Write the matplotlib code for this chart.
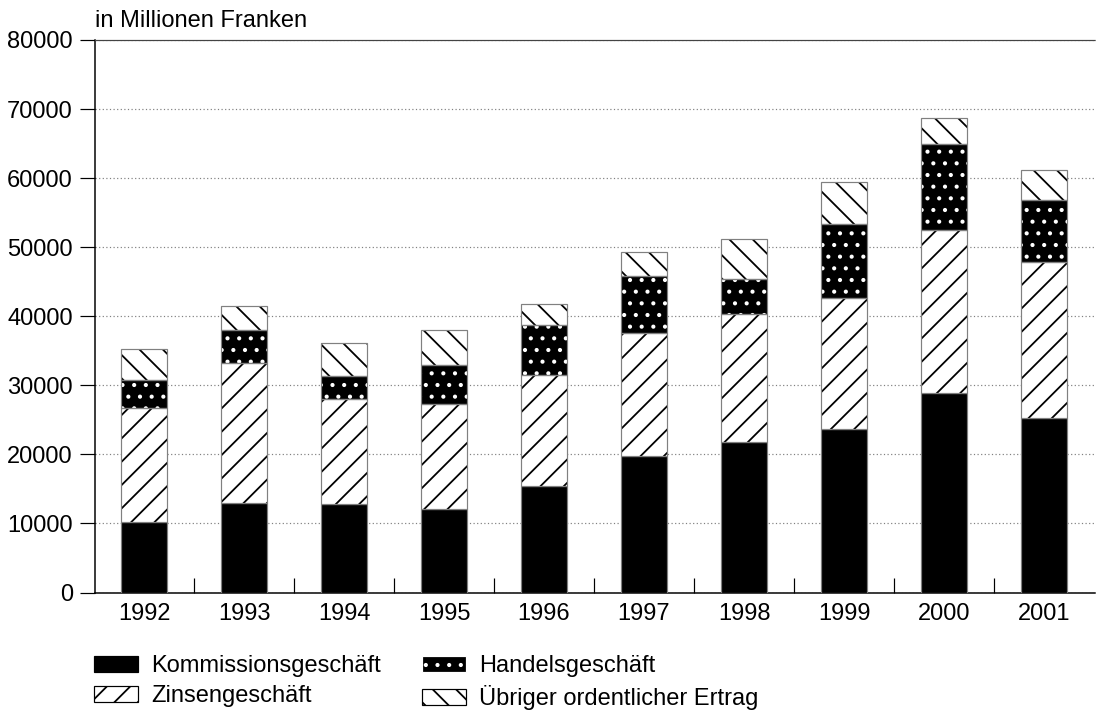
import matplotlib
matplotlib.use("Agg")
import matplotlib.pyplot as plt
import numpy as np

years = ["1992", "1993", "1994", "1995", "1996", "1997", "1998", "1999", "2000", "2001"]
kommission = [10230, 12890, 12830, 12020, 15390, 19770, 21790, 23670, 28930, 25220]
zinsen = [16530, 20380, 15180, 15220, 16040, 17770, 18560, 18930, 23500, 22680]
handel = [4050, 4760, 3280, 5740, 7270, 8300, 5000, 10800, 12530, 8960]
uebriger = [4480, 3470, 4870, 5100, 3090, 3410, 5830, 6020, 3710, 4340]
labels = ["Kommissionsgeschäft", "Zinsengeschäft", "Handelsgeschäft", "Übriger ordentlicher Ertrag"]
yticks = [0, 10000, 20000, 30000, 40000, 50000, 60000, 70000, 80000]

DPI = 70
W, H = 1099, 716


def px(p):
    return p * 72.0 / DPI


FONT = 'Liberation Sans'
FS = px(23.6)
plt.rcParams['hatch.linewidth'] = px(1.8)
plt.rcParams['font.family'] = [FONT, 'DejaVu Sans']

fig = plt.figure(figsize=(W / DPI, H / DPI), dpi=DPI)
ax = fig.add_axes([95 / W, 1 - 592.5 / H, 1000 / W, (592.5 - 40) / H])

x = np.arange(len(years))
bw = 0.46
edge = '#808080'
elw = px(1.2)
k = np.array(kommission)
z = np.array(zinsen)
h = np.array(handel)
u = np.array(uebriger)

b1 = ax.bar(x, k, bw, color='black', edgecolor=edge, linewidth=elw, zorder=3)
b2 = ax.bar(x, z, bw, bottom=k, facecolor='white', edgecolor='black', hatch='/', linewidth=0, zorder=3)
ax.bar(x, z, bw, bottom=k, fill=False, edgecolor=edge, linewidth=elw, zorder=4)
b3 = ax.bar(x, h, bw, bottom=k + z, facecolor='black', edgecolor='white', hatch='.', linewidth=0, zorder=3)
ax.bar(x, h, bw, bottom=k + z, fill=False, edgecolor=edge, linewidth=elw, zorder=4)
b4 = ax.bar(x, u, bw, bottom=k + z + h, facecolor='white', edgecolor='black', hatch='\\', linewidth=0, zorder=3)
ax.bar(x, u, bw, bottom=k + z + h, fill=False, edgecolor=edge, linewidth=elw, zorder=4)

ax.set_xlim(-0.49, 9.51)
ax.set_ylim(0, 80000)
ax.set_yticks(yticks)
ax.set_yticklabels([str(v) for v in yticks], fontsize=FS)
ax.set_xticks(x)
ax.set_xticklabels(years, fontsize=FS)
ax.tick_params(axis='x', which='major', length=0, pad=px(10))
ax.set_xticks(x[:-1] + 0.5, minor=True)
ax.tick_params(axis='x', which='minor', direction='in', length=px(15), width=px(1.2), color='black')
ax.tick_params(axis='y', direction='out', length=px(15), width=px(1.2), pad=px(7))

ax.grid(axis='y', linestyle=(0, (1, 2)), color='#808080', linewidth=px(1.2), zorder=0)
ax.spines['right'].set_visible(False)
ax.spines['top'].set_linestyle((0, (1, 1)))
ax.spines['top'].set_color('#444444')
ax.spines['top'].set_linewidth(px(1.2))
ax.spines['left'].set_linewidth(px(1.5))
ax.spines['bottom'].set_linewidth(px(1.5))

fig.text(95 / W, 1 - 27 / H, "in Millionen Franken", fontsize=FS, va='baseline', ha='left')

leg = fig.legend([b1, b2, b3, b4], labels, ncol=2, loc='upper left',
                 bbox_to_anchor=(94 / W, 1 - 655 / H), frameon=False,
                 prop={'family': FONT, 'size': FS},
                 handlelength=1.86, handleheight=0.66, handletextpad=0.55,
                 columnspacing=1.75, labelspacing=0.34, borderpad=0, borderaxespad=0)
for p in leg.get_patches():
    p.set_linewidth(elw)
    if p.get_hatch() == '.':
        p.set_edgecolor('white')
    else:
        p.set_edgecolor('black')
fig.savefig("out.png", dpi=DPI)
